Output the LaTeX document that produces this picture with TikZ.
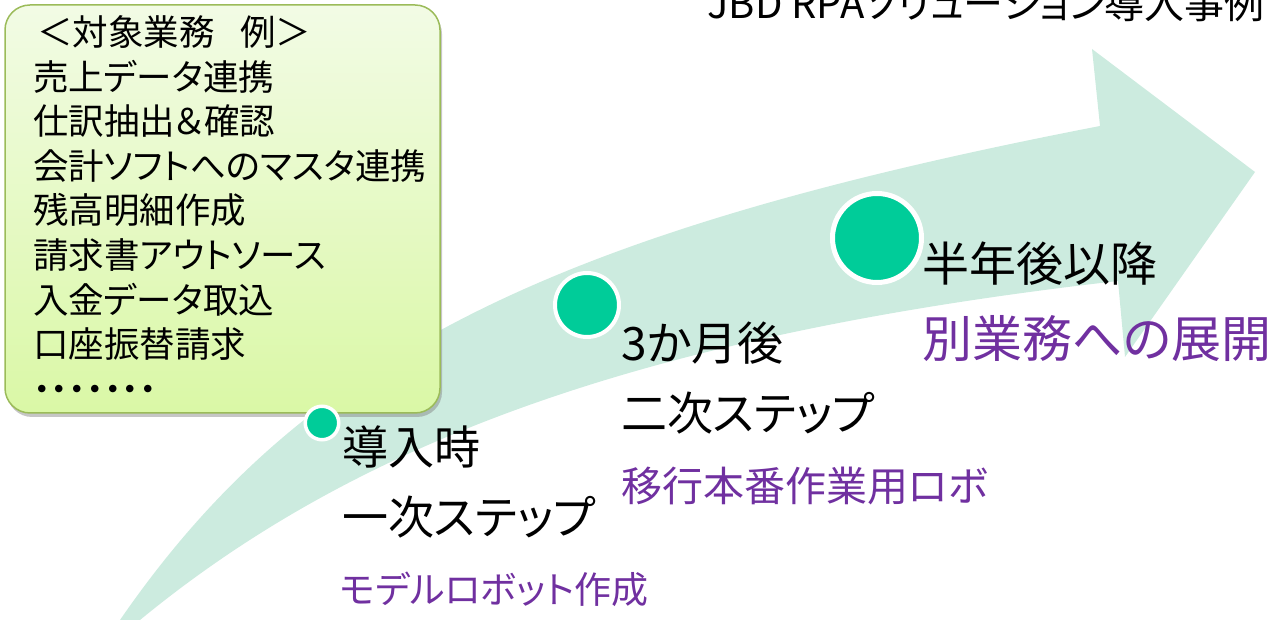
\documentclass[tikz,border=0pt]{standalone}
\usepackage{fontspec}
\setmainfont{Noto Sans CJK JP}[RawFeature=+palt]
\usetikzlibrary{shadows}
\pgfdeclarelayer{bg}
\pgfsetlayers{bg,main}
\definecolor{mint}{RGB}{204,235,223}
\definecolor{jade}{RGB}{0,204,153}
\definecolor{stepviolet}{RGB}{112,48,160}
\definecolor{boxtop}{RGB}{242,251,229}
\definecolor{boxbot}{RGB}{218,248,166}
\definecolor{boxline}{RGB}{155,187,89}
\tikzstyle{dot}=[circle, fill=jade, draw=white, inner sep=0pt]
\tikzstyle{lbl}=[anchor=west, inner sep=0pt, font=\fontsize{46}{55}\selectfont]
\tikzstyle{sub}=[anchor=west, inner sep=0pt, text=stepviolet, font=\fontsize{37}{44}\selectfont]
\tikzstyle{panel}=[draw=boxline, line width=1.5pt, rounded corners=25pt, top color=boxtop, bottom color=boxbot,
  minimum width=435pt, minimum height=408pt, inner xsep=28pt, text width=379pt, align=left,
  drop shadow={shadow xshift=2pt, shadow yshift=-4pt, opacity=0.45},
  font=\fontsize{35.5}{44.6}\selectfont]

\begin{document}
\begin{tikzpicture}[x=1pt, y=1pt]
    \useasboundingbox (0,0) rectangle (1285,620);

    \node [anchor=base east, inner sep=0pt, font=\fontsize{40}{48}\selectfont] (title) at (1265,601) {JBD RPAソリューション導入事例};

    \node [panel] (jobs) at (222.5,411) {
      \hspace{4pt}＜対象業務\hspace{26pt}例＞\\
      売上データ連携\\
      仕訳抽出＆確認\\
      会計ソフトへのマスタ連携\\
      残高明細作成\\
      請求書アウトソース\\
      入金データ取込\\
      口座振替請求\\
      ・・・・・・・
    };

    \node [dot, minimum size=33.5pt, line width=3.5pt] (c1) at (322,197) {};
    \node [dot, minimum size=64pt, line width=4pt] (c2) at (587,315) {};
    \node [dot, minimum size=89pt, line width=5pt] (c3) at (877,382) {};

    \node [lbl] (t1) at (342,173) {導入時};
    \node [lbl] (s1) at (342,103) {一次ステップ};
    \node [sub] (r1) at (340,31) {モデルロボット作成};

    \node [lbl] (t2) at (621,277) {3か月後};
    \node [lbl] (s2) at (621,207) {二次ステップ};
    \node [sub, font=\fontsize{41}{49}\selectfont] (r2) at (621,134) {移行本番作業用ロボ};

    \node [lbl, font=\fontsize{47}{56}\selectfont] (t3) at (922,356) {半年後以降};
    \node [sub, font=\fontsize{50}{60}\selectfont] (r3) at (922,281) {別業務への展開};

    \begin{pgfonlayer}{bg}
        \fill [mint] (120,0) .. controls (301.5,263) and (546.5,387) .. (1100,494)
          -- (1092,571) -- (1255,448) -- (1125,263) -- (1118,339)
          .. controls (659,286.5) and (365,185) .. (140,0) -- cycle;
    \end{pgfonlayer}
\end{tikzpicture}
\end{document}
